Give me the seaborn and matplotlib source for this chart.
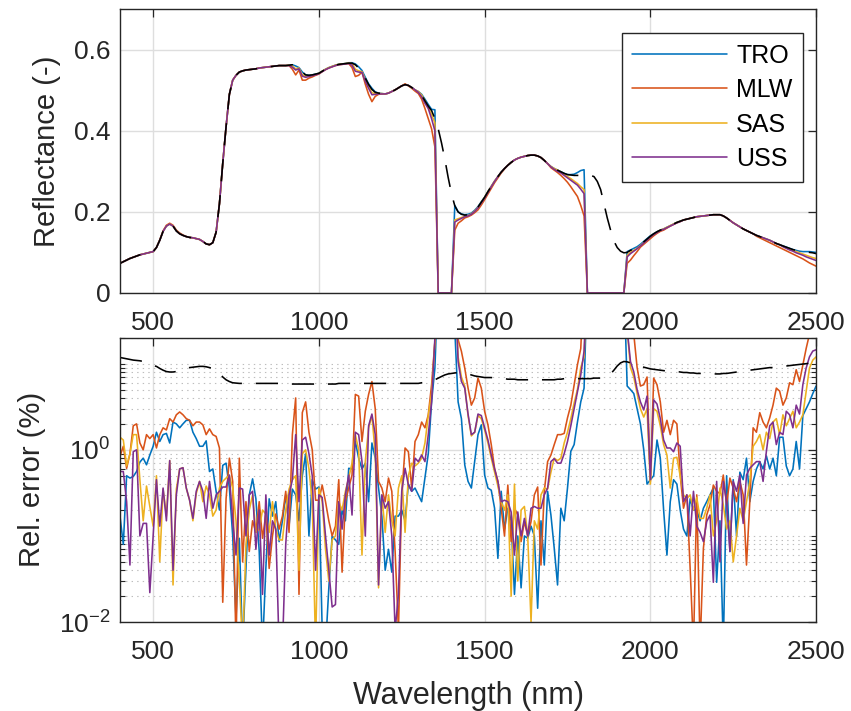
import numpy as np
import pandas as pd
import seaborn as sns
import matplotlib.pyplot as plt
from matplotlib.ticker import FixedLocator, LogLocator, NullFormatter, LogFormatterSciNotation

wavelength = np.arange(400, 2501, 10)
names = ["TRO", "MLW", "SAS", "USS"]
colors = ["#0072BD", "#D95319", "#EDB120", "#7E2F8E"]

# reflectance (top panel)
refl_ref = [
    .073, .077, .081, .085, .088, .091, .094, .096, .098, .100,
    .102, .112, .130, .152, .165, .170, .165, .153, .146, .142,
    .139, .137, .136, .134, .132, .127, .121, .119, .124, .150,
    .220, .320, .410, .490, .525, .537, .545, .548, .550, .551,
    .552, .553, .555, .556, .557, .558, .559, .560, .561, .561,
    .561, .562, .563, .560, .556, .545, .538, .537, .538, .540,
    .542, .547, .552, .556, .559, .562, .564, .565, .566, .567,
    .567, .563, .555, .546, .530, .514, .502, .495, .493, .492,
    .491, .493, .497, .501, .506, .511, .514, .512, .507, .501,
    .497, .488, .474, .461, .450, .430, .405, .370, .330, .285,
    .245, .215, .200, .194, .192, .193, .196, .203, .212, .224,
    .236, .250, .263, .276, .287, .298, .307, .315, .322, .328,
    .332, .335, .337, .339, .340, .340, .338, .334, .327, .319,
    .312, .307, .303, .299, .295, .292, .291, .290, .290, .290,
    .290, .290, .290, .287, .275, .255, .220, .185, .155, .128,
    .112, .103, .099, .100, .105, .109, .113, .119, .126, .133,
    .140, .146, .151, .155, .158, .162, .166, .170, .174, .177,
    .180, .182, .184, .186, .188, .189, .190, .191, .192, .193,
    .193, .193, .190, .185, .179, .173, .168, .163, .158, .154,
    .150, .146, .142, .139, .136, .133, .130, .126, .122, .119,
    .116, .113, .110, .107, .105, .103, .102, .101, .100, .099,
    .097]

refl_tro = [
    .073, .077, .081, .085, .088, .091, .094, .096, .098, .100,
    .102, .112, .130, .152, .165, .170, .165, .153, .146, .142,
    .139, .137, .136, .134, .132, .127, .121, .119, .124, .150,
    .220, .320, .410, .490, .525, .537, .545, .548, .550, .551,
    .552, .553, .555, .556, .557, .558, .559, .560, .561, .561,
    .561, .562, .563, .560, .556, .545, .538, .537, .538, .540,
    .542, .547, .552, .556, .559, .562, .564, .565, .566, .568,
    .568, .565, .558, .549, .532, .516, .505, .496, .493, .492,
    .491, .493, .497, .501, .506, .511, .514, .512, .507, .501,
    .497, .490, .478, .465, .453, .452, 0, 0, 0, 0,
    0, .216, .200, .195, .193, .194, .197, .204, .213, .225,
    .236, .250, .263, .276, .287, .298, .307, .315, .322, .328,
    .332, .335, .337, .339, .340, .340, .338, .334, .327, .319,
    .312, .307, .303, .299, .295, .292, .292, .293, .297, .302,
    .304, 0, 0, 0, 0, 0, 0, 0, 0, 0,
    0, 0, 0, .102, .106, .110, .114, .120, .127, .134,
    .141, .146, .151, .155, .158, .162, .166, .170, .174, .177,
    .180, .182, .184, .186, .188, .189, .190, .191, .192, .193,
    .193, .193, .190, .185, .179, .173, .168, .163, .158, .154,
    .150, .146, .142, .139, .136, .133, .130, .126, .122, .119,
    .116, .113, .110, .107, .105, .103, .102, .102, .102, .101,
    .100]

refl_mlw = [
    .073, .077, .081, .085, .088, .091, .094, .096, .098, .100,
    .102, .112, .131, .153, .167, .172, .167, .155, .148, .143,
    .139, .137, .136, .134, .132, .127, .121, .119, .124, .150,
    .220, .320, .410, .490, .525, .537, .545, .548, .550, .551,
    .552, .553, .555, .556, .557, .558, .559, .560, .561, .561,
    .561, .561, .552, .538, .550, .525, .525, .530, .533, .537,
    .540, .546, .551, .555, .558, .561, .563, .564, .565, .566,
    .556, .534, .537, .545, .515, .490, .472, .485, .490, .491,
    .491, .493, .497, .501, .506, .511, .516, .511, .505, .498,
    .492, .478, .455, .430, .405, .360, 0, 0, 0, 0,
    0, .155, .172, .178, .185, .188, .192, .198, .205, .217,
    .230, .244, .258, .272, .284, .296, .306, .315, .322, .328,
    .332, .335, .337, .339, .340, .340, .338, .334, .327, .319,
    .309, .303, .297, .290, .282, .273, .262, .250, .238, .216,
    .190, 0, 0, 0, 0, 0, 0, 0, 0, 0,
    0, 0, 0, .073, .081, .092, .102, .113, .120, .127,
    .134, .141, .147, .152, .155, .160, .165, .169, .173, .176,
    .180, .182, .184, .186, .188, .189, .190, .191, .192, .193,
    .193, .193, .190, .185, .179, .173, .168, .163, .158, .154,
    .150, .146, .140, .136, .132, .128, .124, .120, .116, .112,
    .108, .104, .100, .096, .092, .088, .084, .079, .074, .070,
    .066]

refl_sas = [
    .073, .077, .081, .085, .088, .091, .094, .096, .098, .100,
    .102, .112, .130, .152, .165, .170, .165, .153, .146, .142,
    .139, .137, .136, .134, .132, .127, .121, .119, .124, .150,
    .220, .320, .410, .490, .525, .537, .545, .548, .550, .551,
    .552, .553, .555, .556, .557, .558, .559, .560, .561, .561,
    .561, .562, .560, .553, .555, .538, .534, .535, .537, .539,
    .542, .547, .552, .556, .559, .562, .564, .565, .566, .567,
    .566, .552, .548, .546, .526, .508, .494, .492, .492, .492,
    .491, .493, .497, .501, .506, .511, .514, .512, .507, .501,
    .497, .488, .474, .458, .440, .420, 0, 0, 0, 0,
    0, .180, .183, .186, .189, .191, .195, .202, .211, .223,
    .236, .250, .263, .276, .287, .298, .307, .315, .322, .328,
    .332, .335, .337, .339, .340, .340, .338, .334, .327, .319,
    .312, .307, .303, .298, .292, .287, .282, .276, .270, .262,
    .255, 0, 0, 0, 0, 0, 0, 0, 0, 0,
    0, 0, 0, .093, .100, .105, .110, .117, .124, .131,
    .139, .145, .150, .155, .158, .162, .166, .170, .174, .177,
    .180, .182, .184, .186, .188, .189, .190, .191, .192, .193,
    .193, .193, .190, .185, .179, .173, .168, .163, .158, .154,
    .150, .146, .142, .139, .136, .133, .130, .126, .122, .119,
    .115, .111, .108, .105, .102, .099, .096, .093, .090, .087,
    .085]

refl_uss = [
    .073, .077, .081, .085, .088, .091, .094, .096, .098, .100,
    .102, .112, .130, .152, .165, .170, .165, .153, .146, .142,
    .139, .137, .136, .134, .132, .127, .121, .119, .124, .150,
    .220, .320, .410, .490, .525, .537, .545, .548, .550, .551,
    .552, .553, .555, .556, .557, .558, .559, .560, .561, .561,
    .561, .561, .557, .550, .553, .535, .532, .534, .536, .538,
    .541, .546, .551, .555, .558, .561, .563, .564, .565, .566,
    .562, .547, .545, .544, .522, .505, .489, .490, .491, .491,
    .491, .493, .497, .501, .506, .511, .514, .512, .507, .501,
    .495, .484, .468, .455, .430, .400, 0, 0, 0, 0,
    0, .175, .180, .184, .188, .190, .194, .201, .210, .222,
    .234, .248, .262, .275, .287, .298, .307, .315, .322, .328,
    .332, .335, .337, .339, .340, .340, .338, .334, .327, .319,
    .311, .305, .300, .296, .290, .284, .278, .272, .266, .256,
    .245, 0, 0, 0, 0, 0, 0, 0, 0, 0,
    0, 0, 0, .089, .097, .103, .109, .116, .123, .130,
    .138, .144, .149, .154, .157, .161, .165, .169, .173, .176,
    .180, .182, .184, .186, .188, .189, .190, .191, .192, .193,
    .193, .193, .190, .185, .179, .173, .168, .163, .158, .154,
    .150, .146, .142, .139, .136, .133, .130, .126, .122, .119,
    .114, .110, .106, .103, .099, .096, .093, .089, .086, .083,
    .080]

# relative error in % (bottom panel)
err_ref = [
    11.8, 11.6, 11.4, 11.2, 11.0, 10.9, 10.8, 10.6, 10.2, 9.8,
    9.5, 9.3, 8.8, 8.4, 8.1, 8.0, 8.0, 8.1, 8.3, 8.6,
    8.9, 9.0, 9.1, 9.2, 9.3, 9.3, 9.2, 9.0, 8.8, 8.4,
    7.8, 7.0, 6.5, 6.2, 6.0, 5.95, 5.9, 5.9, 5.9, 5.9,
    5.9, 5.9, 5.9, 5.9, 5.9, 5.9, 5.9, 5.9, 5.9, 5.9,
    5.8, 5.8, 5.8, 5.8, 5.8, 5.8, 5.8, 5.8, 5.8, 5.8,
    5.8, 5.8, 5.8, 5.8, 5.8, 5.8, 5.9, 5.9, 5.9, 5.9,
    5.9, 5.9, 5.9, 5.9, 5.9, 5.9, 5.9, 5.9, 5.9, 5.9,
    5.9, 5.9, 5.9, 5.9, 5.9, 5.9, 5.9, 5.9, 5.9, 5.9,
    5.9, 6.0, 6.1, 6.2, 6.3, 6.5, 6.8, 7.1, 7.4, 7.6,
    7.7, 7.8, 7.9, 7.9, 7.8, 7.6, 7.4, 7.2, 7.1, 7.0,
    6.9, 6.9, 6.9, 6.8, 6.8, 6.7, 6.7, 6.6, 6.6, 6.6,
    6.5, 6.5, 6.5, 6.5, 6.5, 6.5, 6.5, 6.5, 6.5, 6.5,
    6.5, 6.5, 6.6, 6.6, 6.7, 6.7, 6.7, 6.7, 6.7, 6.7,
    6.7, 6.7, 6.7, 6.8, 6.8, 6.8, 6.9, 7.1, 7.6, 8.4,
    9.4, 10.2, 10.6, 10.5, 10.2, 10.0, 9.7, 9.4, 9.1, 8.9,
    8.7, 8.6, 8.5, 8.4, 8.3, 8.2, 8.2, 8.1, 8.1, 8.0,
    7.9, 7.9, 7.8, 7.8, 7.7, 7.7, 7.7, 7.6, 7.6, 7.6,
    7.6, 7.6, 7.7, 7.7, 7.8, 7.9, 8.0, 8.1, 8.2, 8.3,
    8.4, 8.5, 8.6, 8.7, 8.8, 8.9, 9.0, 9.0, 9.1, 9.2,
    9.3, 9.4, 9.5, 9.6, 9.7, 9.8, 9.9, 10.0, 10.1, 10.2,
    10.3]

err_tro = [
    0.17, 0.08, 0.50, 0.47, 0.49, 0.56, 0.72, 0.80, 0.67, 0.87,
    1.1, 1.6, 1.25, 1.5, 1.55, 1.2, 2.1, 2.0, 1.8, 2.0,
    2.2, 2.2, 1.6, 1.35, 1.1, 1.1, 1.27, 0.56, 0.60, 0.33,
    0.20, 0.66, 0.70, 0.36, 0.10, 0.011, 0.094, 0.005, 0.042, 0.30,
    0.46, 0.27, 0.066, 0.005, 0.042, 0.27, 0.17, 0.25, 0.086, 0.15,
    0.30, 0.13, 0.35, 0.30, 0.15, 0.50, 0.90, 0.10, 0.45, 0.35,
    0.37, 0.008, 0.005, 0.025, 0.10, 0.09, 0.08, 0.20, 0.15, 0.61,
    0.60, 1.25, 0.80, 0.60, 0.70, 0.25, 1.2, 0.80, 0.36, 0.17,
    0.04, 0.07, 0.038, 0.17, 0.17, 0.20, 0.15, 0.40, 0.33, 0.36,
    0.30, 0.25, 0.47, 0.90, 3.6, 8.9, 100, 100, 100, 100,
    100, 25, 3.6, 2.3, 0.67, 0.43, 0.36, 0.73, 1.5, 1.95,
    0.51, 0.36, 0.34, 0.21, 0.055, 0.33, 0.12, 0.21, 0.15, 0.021,
    0.10, 0.025, 0.10, 0.094, 0.13, 0.10, 0.0145, 0.15, 0.046, 0.33,
    0.175, 0.072, 0.027, 0.21, 0.15, 0.36, 0.96, 1.15, 2.1, 3.6,
    5.2, 100, 100, 100, 100, 100, 100, 100, 100, 100,
    100, 100, 100, 5.5, 5.0, 4.5, 3.0, 2.0, 1.0, 0.40,
    0.45, 0.50, 1.3, 0.80, 0.20, 0.06, 0.25, 0.45, 0.40, 0.20,
    0.12, 0.10, 0.27, 0.20, 0.20, 0.15, 0.21, 0.25, 0.30, 0.36,
    0.029, 0.15, 0.005, 0.50, 0.066, 0.45, 0.10, 0.55, 0.45, 0.80,
    0.25, 0.43, 0.60, 0.73, 0.60, 0.85, 0.60, 0.80, 0.50, 1.4,
    1.4, 0.65, 0.50, 0.60, 1.25, 0.60, 2.5, 3.0, 3.6, 4.5,
    5.5]

err_mlw = [
    0.84, 1.1, 0.61, 0.90, 1.9, 2.0, 1.2, 1.0, 1.5, 1.35,
    1.5, 1.05, 1.5, 1.8, 1.7, 2.3, 2.1, 2.55, 2.75, 2.55,
    2.3, 2.2, 1.9, 2.1, 2.1, 1.95, 1.5, 1.75, 1.5, 1.43,
    1.05, 0.017, 0.27, 0.80, 0.43, 0.005, 0.80, 0.05, 0.25, 0.066,
    0.15, 0.11, 0.25, 0.094, 0.18, 0.042, 0.10, 0.18, 0.12, 0.17,
    0.33, 0.11, 1.5, 4.0, 0.021, 2.7, 3.6, 1.6, 1.0, 0.26,
    0.26, 0.39, 0.25, 0.15, 0.10, 0.13, 0.45, 0.038, 0.25, 0.36,
    0.51, 4.4, 4.2, 1.25, 2.8, 4.4, 6.2, 3.0, 0.43, 0.36,
    0.25, 0.47, 0.33, 0.066, 0.008, 0.30, 1.05, 0.95, 0.36, 1.25,
    1.5, 2.1, 1.8, 2.55, 5.7, 18, 100, 100, 100, 100,
    100, 100, 19, 13.9, 8.9, 5.2, 3.3, 4.0, 6.8, 5.2,
    2.8, 1.95, 1.15, 0.61, 0.43, 0.21, 0.10, 0.39, 0.086, 0.21,
    0.175, 0.086, 0.147, 0.10, 0.147, 0.30, 0.37, 0.046, 0.33, 0.73,
    0.87, 1.15, 1.5, 1.5, 1.55, 2.35, 3.3, 5.7, 9.7, 15,
    100, 100, 100, 100, 100, 100, 100, 100, 100, 100,
    100, 100, 100, 100, 100, 22, 9.0, 5.5, 5.7, 7.0,
    0.43, 6.8, 5.7, 3.6, 1.6, 2.2, 1.5, 2.2, 2.0, 0.51,
    0.21, 0.30, 0.042, 0.005, 0.30, 0.005, 0.072, 0.175, 0.23, 0.39,
    0.33, 0.31, 0.51, 0.23, 0.47, 0.36, 0.25, 0.43, 0.30, 0.046,
    0.25, 1.8, 1.6, 2.7, 2.1, 1.8, 2.35, 3.3, 5.2, 4.8,
    3.3, 4.0, 6.0, 5.7, 8.5, 6.2, 9.7, 15, 22, 30,
    35]

err_sas = [
    1.4, 1.3, 0.65, 0.90, 1.5, 1.5, 0.45, 0.15, 0.38, 0.22,
    0.13, 0.50, 0.05, 0.35, 0.17, 0.75, 0.027, 0.35, 0.60, 0.62,
    0.36, 0.26, 0.15, 0.31, 0.43, 0.25, 0.38, 0.30, 0.17, 0.20,
    0.36, 0.43, 0.47, 0.50, 0.36, 0.15, 0.03, 0.005, 0.08, 0.20,
    0.30, 0.11, 0.12, 0.20, 0.18, 0.11, 0.25, 0.12, 0.09, 0.09,
    0.20, 0.35, 0.45, 0.50, 0.04, 0.90, 1.0, 0.60, 0.25, 0.005,
    0.36, 0.25, 0.07, 0.03, 0.09, 0.10, 0.25, 0.20, 0.33, 0.47,
    0.70, 1.5, 1.0, 0.06, 0.73, 1.8, 2.5, 0.90, 0.025, 0.30,
    0.11, 0.30, 0.15, 0.10, 0.36, 0.50, 0.11, 0.50, 0.70, 0.65,
    0.70, 0.80, 1.2, 2.5, 4.5, 18, 100, 100, 100, 100,
    100, 100, 12, 7.0, 5.5, 2.5, 1.45, 1.6, 2.5, 2.3,
    1.7, 1.2, 0.80, 0.55, 0.38, 0.25, 0.20, 0.30, 0.02, 0.40,
    0.03, 0.20, 0.22, 0.10, 0.010, 0.15, 0.12, 0.30, 0.36, 0.35,
    0.55, 0.80, 0.75, 0.80, 1.2, 1.6, 2.3, 3.5, 5.0, 9.0,
    12, 100, 100, 100, 100, 100, 100, 100, 100, 100,
    100, 100, 100, 25, 9.0, 7.0, 4.5, 3.0, 2.4, 3.0,
    0.40, 3.0, 2.8, 1.9, 1.15, 0.87, 0.36, 0.80, 0.82, 0.50,
    0.30, 0.27, 0.30, 0.20, 0.28, 0.16, 0.16, 0.21, 0.30, 0.10,
    0.15, 0.36, 0.23, 0.12, 0.15, 0.05, 0.10, 0.21, 0.15, 0.25,
    0.43, 1.1, 1.25, 1.5, 1.0, 1.6, 1.35, 2.1, 2.3, 1.5,
    2.55, 1.9, 2.3, 2.8, 1.8, 2.1, 2.55, 4.8, 8.9, 11,
    12]

err_uss = [
    0.56, 0.56, 0.25, 0.046, 0.95, 1.0, 0.10, 0.14, 0.14, 0.022,
    0.10, 0.45, 0.13, 0.36, 0.15, 0.75, 0.04, 0.30, 0.60, 0.62,
    0.36, 0.26, 0.16, 0.33, 0.43, 0.33, 0.16, 0.43, 0.21, 0.30,
    0.33, 0.37, 0.37, 0.51, 0.15, 0.06, 0.36, 0.35, 0.10, 0.30,
    0.33, 0.07, 0.20, 0.021, 0.30, 0.06, 0.15, 0.12, 0.005, 0.005,
    0.08, 0.30, 0.45, 1.5, 0.25, 1.3, 1.4, 0.90, 0.50, 0.04,
    0.30, 0.28, 0.10, 0.04, 0.015, 0.016, 0.25, 0.12, 0.30, 0.51,
    0.175, 1.6, 1.5, 0.73, 0.10, 1.9, 2.6, 1.5, 0.027, 0.30,
    0.21, 0.25, 0.10, 0.008, 0.021, 0.33, 0.61, 0.39, 0.33, 0.80,
    0.73, 0.87, 0.73, 1.5, 3.6, 20, 100, 100, 100, 100,
    100, 100, 10.6, 6.2, 5.2, 2.6, 1.5, 1.6, 2.6, 2.5,
    1.8, 1.3, 0.87, 0.60, 0.43, 0.25, 0.26, 0.25, 0.19, 0.06,
    0.19, 0.10, 0.16, 0.10, 0.21, 0.22, 0.21, 0.21, 0.30, 0.36,
    0.73, 0.79, 0.70, 0.70, 0.90, 1.25, 1.9, 3.0, 4.8, 7.4,
    14, 100, 100, 100, 100, 100, 100, 100, 100, 100,
    100, 100, 100, 25, 10.6, 8.0, 5.0, 3.6, 2.9, 4.2,
    0.45, 3.8, 3.4, 2.3, 1.3, 1.05, 1.05, 0.95, 1.2, 1.1,
    0.25, 0.30, 0.10, 0.33, 0.13, 0.11, 0.086, 0.147, 0.175, 0.029,
    0.43, 0.05, 0.43, 0.25, 0.066, 0.43, 0.33, 0.51, 0.14, 0.51,
    0.61, 0.67, 0.73, 0.73, 0.43, 0.96, 1.9, 2.1, 1.15, 1.6,
    1.5, 2.8, 2.55, 1.8, 3.3, 2.6, 5.7, 8.9, 12, 14,
    14.5]

refl_series = [refl_tro, refl_mlw, refl_sas, refl_uss]
err_series = [err_tro, err_mlw, err_sas, err_uss]

sns.set_style("white")
plt.rcParams["font.family"] = ["Liberation Sans", "DejaVu Sans"]
plt.rcParams["mathtext.fontset"] = "custom"
plt.rcParams["mathtext.rm"] = "Liberation Sans"
plt.rcParams["lines.scale_dashes"] = False
dark = "#262626"

fig = plt.figure(figsize=(8.51, 7.11), dpi=100)
ax1 = fig.add_axes([0.141, 0.588, 0.818, 0.399])
ax2 = fig.add_axes([0.141, 0.125, 0.818, 0.400])

for vals, name, c in zip(refl_series, names, colors):
    sns.lineplot(x=wavelength, y=vals, ax=ax1, color=c, linewidth=1.15, label=name,
                 errorbar=None, legend=False)
sns.lineplot(x=wavelength, y=refl_ref, ax=ax1, color="k", linewidth=1.15,
             linestyle=(0, (16, 10)), errorbar=None, legend=False)

for vals, c in zip(err_series, colors):
    sns.lineplot(x=wavelength, y=vals, ax=ax2, color=c, linewidth=1.15,
                 errorbar=None, legend=False)
sns.lineplot(x=wavelength, y=err_ref, ax=ax2, color="k", linewidth=1.15,
             linestyle=(0, (16, 10)), errorbar=None, legend=False)

for ax in (ax1, ax2):
    ax.set_xlim(400, 2500)
    ax.set_xticks([500, 1000, 1500, 2000, 2500])
    ax.set_axisbelow(True)
    ax.grid(True, which="major", color="#dedede", linewidth=1.0)
    ax.tick_params(axis="both", which="major", direction="in", top=True, right=True,
                   length=5.5, width=0.9, labelsize=19, colors=dark)
    ax.tick_params(axis="x", pad=13)
    ax.tick_params(axis="y", pad=7)
    for s in ax.spines.values():
        s.set_color(dark)
        s.set_linewidth(1.0)

ax1.set_ylim(0, 0.7)
ax1.set_yticks([0, 0.2, 0.4, 0.6])
ax1.set_yticklabels(["0", "0.2", "0.4", "0.6"])
ax1.set_xlabel("")
ax1.set_ylabel("Reflectance (-)", fontsize=21, color=dark, labelpad=9)

ax2.set_yscale("log")
ax2.set_ylim(0.01, 20)
ax2.yaxis.set_major_locator(FixedLocator([0.01, 1]))
ax2.yaxis.set_major_formatter(LogFormatterSciNotation())
ax2.yaxis.set_minor_locator(LogLocator(base=10, subs=np.arange(1, 10) * 1.0, numticks=30))
ax2.yaxis.set_minor_formatter(NullFormatter())
ax2.tick_params(axis="y", which="minor", direction="in", left=True, right=True,
                length=3.5, width=0.8, colors=dark)
ax2.grid(True, which="minor", axis="y", color="#bdbdbd", linewidth=0.8,
         linestyle=(0, (1, 3)))
ax2.set_xlabel("Wavelength (nm)", fontsize=22, color=dark, labelpad=12)
ax2.set_ylabel("Rel. error (%)", fontsize=21, color=dark, labelpad=9)

handles = ax1.get_lines()[:4]
leg = ax1.legend(handles, names, loc="upper right", bbox_to_anchor=(0.981, 0.9155),
                 borderaxespad=0, fontsize=18, handlelength=3.8, handletextpad=0.35,
                 labelspacing=0.42, borderpad=0.42, fancybox=False, framealpha=1,
                 labelcolor="black")
leg.get_frame().set_edgecolor(dark)
leg.get_frame().set_linewidth(1.0)

fig.savefig("out.png", dpi=100)
plt.close(fig)
